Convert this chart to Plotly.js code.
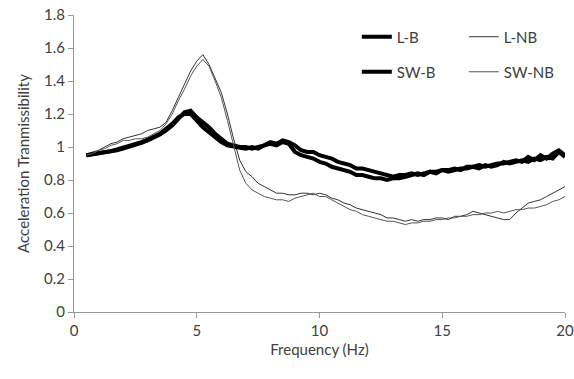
<!DOCTYPE html>
<html>
<head>
<meta charset="utf-8">
<script src="https://cdn.plot.ly/plotly-3.0.1.min.js"></script>
<style>html,body{margin:0;padding:0;background:#fff;}#chart{width:574px;height:379px;}</style>
</head>
<body>
<div id="chart"></div>
<script>
const freq = [0.5,0.75,1,1.25,1.5,1.75,2,2.25,2.5,2.75,3,3.25,3.5,3.75,4,4.25,4.5,4.75,5,5.25,5.5,5.75,6,6.25,6.5,6.75,7,7.25,7.5,7.75,8,8.25,8.5,8.75,9,9.25,9.5,9.75,10,10.25,10.5,10.75,11,11.25,11.5,11.75,12,12.25,12.5,12.75,13,13.25,13.5,13.75,14,14.25,14.5,14.75,15,15.25,15.5,15.75,16,16.25,16.5,16.75,17,17.25,17.5,17.75,18,18.25,18.5,18.75,19,19.25,19.5,19.75,20];

const lB = [0.95,0.955,0.96,0.965,0.97,0.98,0.99,1.0,1.01,1.025,1.04,1.055,1.075,1.10,1.13,1.17,1.21,1.22,1.18,1.15,1.12,1.08,1.05,1.02,1.01,1.0,1.0,0.99,1.0,1.01,1.03,1.02,1.04,1.03,1.01,0.98,0.97,0.97,0.95,0.94,0.93,0.91,0.90,0.89,0.87,0.87,0.86,0.85,0.84,0.83,0.82,0.83,0.83,0.84,0.83,0.84,0.85,0.85,0.86,0.86,0.87,0.86,0.88,0.88,0.89,0.88,0.89,0.90,0.90,0.91,0.92,0.91,0.94,0.92,0.95,0.93,0.96,0.98,0.95];

const swB = [0.95,0.955,0.96,0.97,0.975,0.985,0.995,1.005,1.02,1.03,1.045,1.06,1.08,1.11,1.14,1.18,1.20,1.20,1.16,1.12,1.09,1.06,1.03,1.01,1.0,0.995,0.99,1.0,0.99,1.01,1.02,1.01,1.03,1.02,0.97,0.95,0.94,0.93,0.91,0.90,0.88,0.87,0.86,0.85,0.83,0.83,0.82,0.81,0.81,0.80,0.81,0.81,0.82,0.83,0.84,0.83,0.85,0.84,0.86,0.85,0.86,0.87,0.87,0.88,0.87,0.89,0.88,0.89,0.91,0.90,0.91,0.92,0.91,0.93,0.92,0.94,0.93,0.97,0.94];

const lNB = [0.95,0.97,0.98,1.0,1.02,1.03,1.05,1.06,1.07,1.08,1.10,1.11,1.12,1.15,1.22,1.30,1.38,1.46,1.52,1.56,1.50,1.42,1.33,1.20,1.05,0.92,0.85,0.82,0.78,0.76,0.74,0.72,0.72,0.71,0.71,0.72,0.72,0.71,0.72,0.71,0.69,0.68,0.66,0.65,0.63,0.62,0.61,0.60,0.59,0.57,0.57,0.56,0.55,0.56,0.55,0.56,0.56,0.57,0.57,0.56,0.58,0.58,0.59,0.61,0.60,0.59,0.58,0.57,0.56,0.56,0.60,0.63,0.66,0.67,0.68,0.70,0.72,0.74,0.76];

const swNB = [0.95,0.96,0.98,0.99,1.01,1.02,1.04,1.04,1.05,1.05,1.06,1.08,1.10,1.14,1.20,1.28,1.35,1.43,1.49,1.53,1.49,1.40,1.30,1.16,1.00,0.86,0.78,0.74,0.72,0.70,0.69,0.68,0.68,0.67,0.69,0.70,0.71,0.72,0.70,0.70,0.68,0.66,0.64,0.62,0.61,0.59,0.58,0.57,0.56,0.55,0.55,0.54,0.53,0.54,0.54,0.55,0.55,0.56,0.56,0.57,0.57,0.58,0.58,0.59,0.59,0.60,0.60,0.61,0.60,0.61,0.62,0.62,0.63,0.63,0.64,0.65,0.67,0.68,0.70];

const seriesNames = ['L-B','L-NB','SW-B','SW-NB'];
const xTicks = [0,5,10,15,20];
const yTicks = [0,0.2,0.4,0.6,0.8,1,1.2,1.4,1.6,1.8];
const yTickText = ['0','0.2','0.4','0.6','0.8','1','1.2','1.4','1.6','1.8'];

const font = {family: 'Lato, "Open Sans", sans-serif', size: 15, color: '#404040'};

const traces = [
  {x: freq, y: lB, name: seriesNames[0], mode: 'lines', line: {color: '#000', width: 4}, legend: 'legend'},
  {x: freq, y: lNB, name: seriesNames[1], mode: 'lines', line: {color: '#333', width: 1}, legend: 'legend2'},
  {x: freq, y: swB, name: seriesNames[2], mode: 'lines', line: {color: '#000', width: 4}, legend: 'legend3'},
  {x: freq, y: swNB, name: seriesNames[3], mode: 'lines', line: {color: '#555', width: 1}, legend: 'legend4'}
];

function leg(x, y) {
  return {x: x, y: y, xanchor: 'left', yanchor: 'middle', bgcolor: 'rgba(0,0,0,0)', borderwidth: 0, font: font};
}

const layout = {
  width: 574, height: 379,
  margin: {l: 74, r: 9, t: 15, b: 67},
  paper_bgcolor: '#fff', plot_bgcolor: '#fff',
  font: font,
  showlegend: true,
  legend: leg(0.576, 0.926),
  legend2: leg(0.794, 0.926),
  legend3: leg(0.576, 0.808),
  legend4: leg(0.794, 0.808),
  xaxis: {
    range: [0, 20], tickvals: xTicks, ticktext: xTicks.map(String),
    showgrid: false, zeroline: false, showline: true, linecolor: '#999', linewidth: 1,
    ticks: 'outside', ticklen: 5, tickcolor: '#999',
    title: {text: 'Frequency (Hz)', font: font, standoff: 6},
    automargin: false, tickfont: font
  },
  yaxis: {
    range: [0, 1.8], tickvals: yTicks, ticktext: yTickText,
    showgrid: false, zeroline: false, showline: true, linecolor: '#999', linewidth: 1,
    ticks: 'outside', ticklen: 5, tickcolor: '#999',
    title: {text: 'Acceleration Tranmissibility', font: font, standoff: 10},
    automargin: false, tickfont: font
  }
};

Plotly.newPlot('chart', traces, layout, {displayModeBar: false, staticPlot: true});
</script>
</body>
</html>
